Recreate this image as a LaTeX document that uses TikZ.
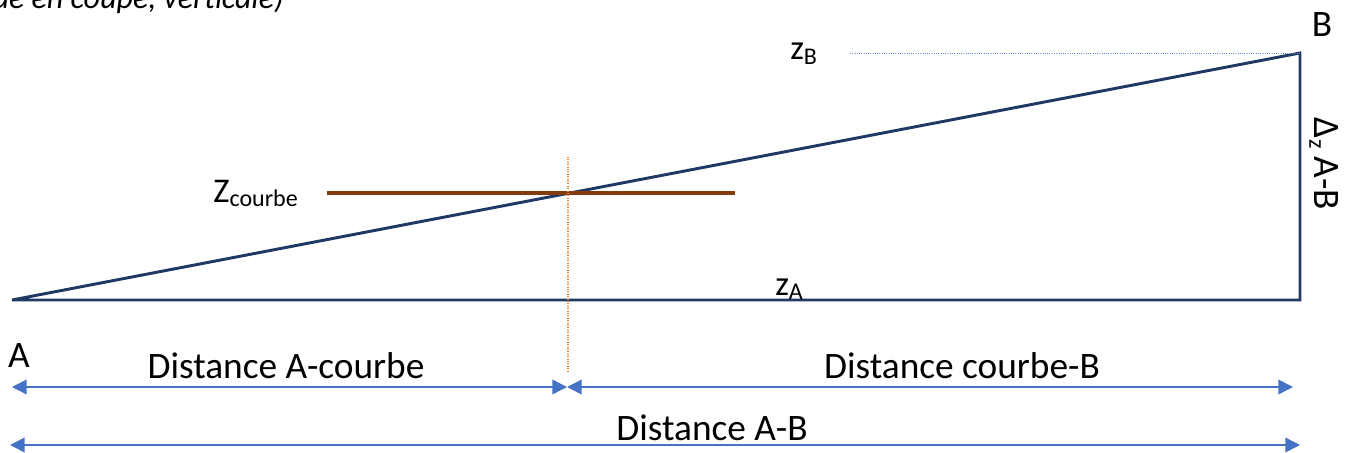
\documentclass[tikz,border=0pt]{standalone}
\usepackage{fontspec}
\setmainfont{Carlito}
\usetikzlibrary{arrows.meta,calc}
\definecolor{marine}{HTML}{203864}
\definecolor{brun}{HTML}{843C0C}
\definecolor{orangeb}{HTML}{ED7D31}
\definecolor{bleuc}{HTML}{4472C4}
\newcommand{\lowtxt}[1]{\raisebox{-0.3ex}{\fontsize{18}{20}\selectfont #1}}

\begin{document}
\begin{tikzpicture}[x=0.75pt,y=-0.75pt,
    pente/.style={draw=marine,line width=2.2pt,line join=miter},
    courbe/.style={draw=brun,line width=3pt},
    repere/.style={draw=orangeb,densely dotted,line width=0.8pt},
    niveau/.style={draw=bleuc!80,densely dotted,line width=0.7pt},
    cote/.style={draw=bleuc,line width=1.1pt,{Triangle[length=11pt,width=11pt]}-{Triangle[length=11pt,width=11pt]}},
    lab/.style={font=\fontsize{28}{32}\selectfont,inner sep=0pt,anchor=base}]
  \path[use as bounding box] (0,0) rectangle (1357,453);
  \clip (0,0) rectangle (1357,453);
  \node[anchor=base east,inner sep=0pt,font=\fontsize{24}{28}\selectfont\itshape] (titre) at (284,9) {ue en coupe, verticale)};
  % triangle de la pente
  \coordinate (A) at (12,300);\coordinate (C) at (1300,300);\coordinate (B) at (1300,53);
  \draw[pente] (A) -- (C) -- (B) -- cycle;
  \coordinate (zBl) at (850,53);\draw[niveau] (zBl) -- (B);
  \coordinate (c1) at (327,193);\coordinate (c2) at (735,193);\draw[courbe] (c1) -- (c2);
  \coordinate (rh) at (568,157);\coordinate (rb) at (568,372);\draw[repere] (rh) -- (rb);
  % labels
  \node[lab] (lA) at (19,367) {A};\node[lab] (lB) at (1322,37) {B};
  \node[lab,anchor=base west,font=\fontsize{26}{30}\selectfont] (zB) at (790,60) {z\lowtxt{B}};
  \node[lab,anchor=base west,font=\fontsize{26}{30}\selectfont] (zA) at (775,295) {z\lowtxt{A}};
  \node[lab,anchor=base east,font=\fontsize{26}{30}\selectfont] (zc) at (298,202) {Z\lowtxt{courbe}};
  \node[lab,anchor=center,rotate=-90] (dz) at (1324,164) {Δ\lowtxt{z} A-B};
  % cotes
  \coordinate (g1) at (12,387);\coordinate (m1) at (567,387);\coordinate (d1) at (1293,387);
  \coordinate (g2) at (10,445);\coordinate (d2) at (1300,445);
  \draw[cote] (g1) -- (m1);\draw[cote] (m1) -- (d1);\draw[cote] (g2) -- (d2);
  \foreach \n/\x/\y/\t in {dAc/286/378/Distance A-courbe,dcB/962/378/Distance courbe-B,dAB/712/440/Distance A-B}
    {\node[lab] (\n) at (\x,\y) {\t};}
\end{tikzpicture}
\end{document}
